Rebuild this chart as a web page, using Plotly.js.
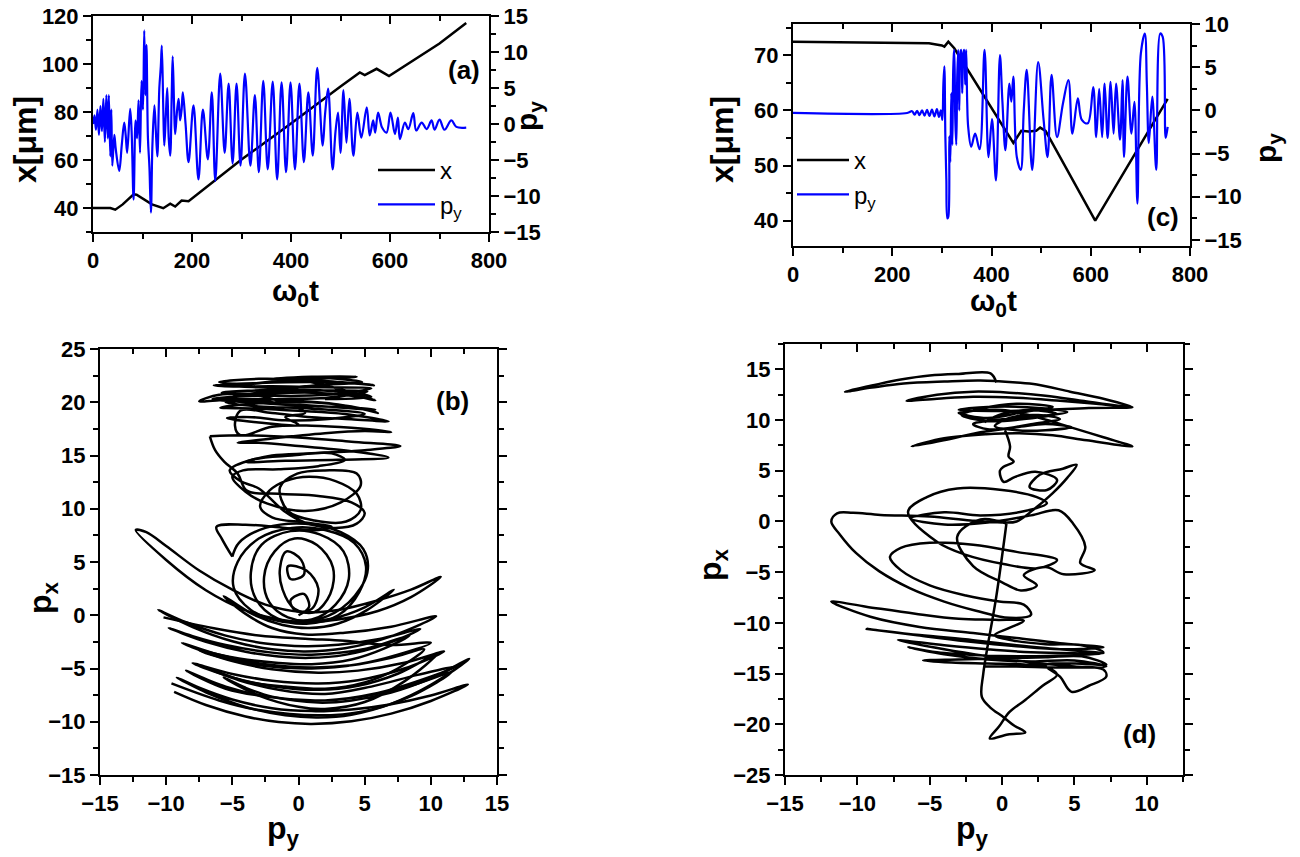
<!DOCTYPE html>
<html><head><meta charset="utf-8">
<script src="https://cdn.plot.ly/plotly-3.0.1.min.js"></script>
<style>html,body{margin:0;padding:0;background:#fff}#chart{width:1300px;height:857px}</style>
</head><body><div id="chart"></div>
<script>
// ---------------- DATA ----------------
// Panel (a): time series, [omega0 t, value]
const A_X = [[0,40],[35,40],[45,39.3],[60,41.5],[82,45.7],[88,45.5],[119,41.5],[142,39.9],[156,41.8],[166,40.6],[179,43.1],[193,42.8],[300,60.2],[400,75.2],[500,90.6],[539,96.5],[549,95.4],[573,98],[598,95],[650,102],[700,108.5],[754,117.1]];
const A_PY = [[0,0],[3,1.2],[6,-0.8],[9,2],[12,-1.5],[15,2.5],[18,-1],[21,3.5],[24,-2.5],[27,4],[30,-2],[32,4],[35,-4.5],[37,2],[39,-5.8],[43,-1.5],[46,-3.5],[53,-6.5],[58,-3],[63,0.2],[66,-1.5],[69,-4],[75,2.1],[78,-1],[82,-10.5],[86,0.5],[89,-2],[92,3.3],[95,-4],[98,6],[101,2],[103.5,13],[106,4],[108,11],[111,-2],[114,-6],[117,-12.3],[120,-3],[124,2.6],[127,-1],[130,-4.5],[134,5],[137,8],[139,10.9],[142,2],[144,-3],[147,1],[150,5],[153,-2],[156,-4.4],[159,4],[161,9.4],[164,2],[166,-1.4],[170,2],[173,3.5],[176,0.5],[179,2],[181.5,4.4],[187,0],[193,-5.3],[203,2.6],[213,-7.7],[222,2],[232,-4.9],[240,4.4],[247,-7.9],[257,7],[266,-4],[274,5.6],[282,-5.5],[290,5.6],[298,-5.8],[307,7],[318,-5.8],[327,4],[335,-6.7],[344,6],[353,-6.3],[363,5.9],[372,-7.7],[381,5.8],[390,-6.7],[399,5.8],[408,-6.3],[417,5.6],[426,-5.3],[435,4.4],[444,-4.4],[453,7.8],[464,-3],[469,1.5],[475,4.9],[484,-6.3],[490,-1],[495,1.6],[500,-4],[506,4.7],[512,-2.6],[518,3.5],[526,-4.4],[534,1.6],[542,-1.9],[553,2.3],[559,-1.6],[566,0.5],[570,-1.2],[576,1.6],[584,-0.5],[593,-1.2],[601,1.6],[610,-1.4],[616,0.9],[620,-2.1],[630,0.2],[637,-0.7],[647,1.5],[653,-0.9],[664,0.2],[674,-0.7],[684,0.5],[690,-0.8],[700,0.6],[710,-0.8],[724,0.5],[734,-0.4],[754,-0.5]];

// Panel (c): time series
const C_X = [[0,72.5],[150,72.4],[274,72.2],[300,71.8],[305,71.6],[313,72.5],[325,71.3],[444,54.1],[452,55.3],[460,56.3],[475,56.2],[490,56.3],[498,56.9],[509,56.3],[609,40.0],[755,62.1]];
const C_PY = [[0,-0.3],[230,-0.3],[240,-0.1],[245,-0.5],[250,-0.05],[255,-0.55],[260,0],[265,-0.6],[270,0.05],[275,-0.65],[280,0.1],[285,-0.7],[290,0.15],[294,-0.75],[298,0],[301,-1.1],[303,3],[305,5.1],[307,-3],[309,-8],[311,-12.5],[313,-12.3],[315,-3],[317,-6],[319,2],[321,-4],[323,5],[325,7.0],[327,-1],[329,-4],[331,4],[333,7],[335,0],[337,6.5],[339,7],[341,2],[343,6.5],[345,7],[347,3],[349,7],[351,1],[353,-1.9],[359,-4.2],[367,-2.7],[376,-4.5],[386,7.0],[394,-5.4],[401,-1],[409,-8.1],[417,6.4],[422,1],[428,-4.6],[436,3.1],[440,1],[444,3.9],[451,-5.4],[459,-6.9],[465,0],[471,4.7],[482,-6.9],[494,5.6],[505,-1.1],[513,-5.4],[521,4.1],[532,-3.1],[544,0.8],[555,3.5],[563,-2.7],[574,1.4],[582,-1.1],[594,-1.5],[605,2.7],[611,-3.1],[617,2.5],[623,-3.1],[628,3.1],[634,-3.2],[640,3.3],[646,-2.7],[651,3.1],[659,-3.4],[664,3.5],[667,-5.4],[674,3.9],[682,-2.7],[688,1],[694,-10.8],[701,6.6],[709,8.9],[713,3.1],[717,-3.8],[724,1.6],[732,-6.9],[740,8.9],[745,8.5],[751,-3.2],[755,-1.9]];

// Panel (b): phase space [p_y, p_x]
const B_CENTER = [[0,0],[0.8,0.8],[0.4,2.0],[-0.6,1.4],[-0.2,0.4],[1.0,0.6],[1.5,2.5],[0.6,4.2],[-0.8,4.6],[-0.6,3.4],[0.4,3.8],[0.2,5.2],[-0.9,6.0],[-1.4,4.4],[-1.2,2.4],[-0.3,0.6],[1.2,0.3],[2.4,2],[2.6,4.5],[1.4,6.6],[-0.3,7.2],[-1.8,6],[-2.6,3.6],[-2.2,1.2],[-0.8,-0.2],[1,-0.4],[2.8,1],[3.8,3.4],[3.4,6],[1.6,7.6],[-0.6,7.9],[-2.8,6.6],[-3.6,4],[-3.2,1.5],[-1.6,-0.3],[0.6,-0.8],[3,0],[4.6,2.2],[5.1,4.6],[4.2,6.8],[2,8],[-0.5,8.2],[-3,7.2],[-4.6,5],[-4.9,2.6],[-3.6,0.5],[-1.2,-0.6],[1.5,-0.4],[3.8,1.2],[5.2,4.0],[4.9,6.2],[3.2,7.8],[0.5,8.6],[-2.5,8.2],[-4.5,6.8],[-5,5.5]];
const B_BANANAS = [[-9.4,-7.2],[-7,-8.43],[-4,-9.51],[-1.5,-10.03],[1,-10.2],[4,-9.96],[7,-9.24],[10,-8.05],[12.8,-6.5],
[10,-7.54],[7,-8.35],[4,-8.84],[1,-9.0],[-2,-8.73],[-5,-7.91],[-7.5,-6.81],[-9.2,-5.85],
[-7,-7.23],[-4,-8.61],[-1,-9.4],[1.5,-9.6],[4,-9.34],[7,-8.32],[10,-6.54],[12.9,-4.1],
[10,-5.92],[7,-7.25],[4,-8.0],[1.5,-8.2],[-2,-7.64],[-4,-6.81],[-5.65,-5.85],
[-3,-7.54],[0,-8.6],[2,-8.8],[5,-8.15],[8,-6.21],[10.5,-3.6],
[7.5,-5.49],[4.5,-6.62],[1.5,-7.0],[-2,-6.66],[-5,-5.83],[-8,-4.5],
[-5,-5.51],[-2,-6.14],[1.5,-6.4],[4.5,-6.1],[8,-5.0],[11,-3.4],
[8,-4.46],[4.5,-5.2],[1.5,-5.4],[-2,-5.08],[-5,-4.3],[-7.5,-3.3],
[-4.5,-4.06],[-1.5,-4.49],[1,-4.6],[4,-4.16],[6.5,-3.11],[8.4,-1.9],
[5,-3.17],[1,-3.7],[-2,-3.51],[-5.5,-2.8],[-8,-1.97],[-9.8,-1.2],
[-7,-2.49],[-4,-3.43],[-1.5,-3.87],[0.8,-4.0],[3.5,-3.72],[6.5,-2.76],[9.2,-1.3],
[6,-2.26],[3,-2.77],[0.5,-2.9],[-2.5,-2.65],[-5.5,-1.91],[-8.5,-0.66],[-10.6,0.5],
[-8,-1.11],[-5,-2.44],[-2,-3.2],[0.5,-3.4],[3.5,-3.1],[7,-1.98],[10.4,-0.1],
[7,-1.07],[3.5,-1.64],[0.5,-1.8],[-2,-1.2],[-4,0.13],[-5.65,1.8],
[-3.5,0.13],[-1.2,-0.91],[0.8,-1.2],[3,-0.78],[5.2,0.5],[7.2,2.4],
[5,0.75],[2.5,-0.33],[0.5,-0.6],[-1.5,-0.39],[-4,0.46],[-7,2.35],[-10,5.19],[-12.3,8],
[-11.5,7.8],[-10,6.5],[-7.5,4.2],[-5,2.4],[-2.5,1.0],[0.3,0.3],[3,0.5],[6,1.4],[8.5,2.4],[10.75,3.6],
[8.5,1.7],[6,0.4],[3,-0.4],[0.5,-0.7]];
const B_BANANAS2 = [[-9.6,-6.4],[-6,-8.0],[-3,-8.9],[1.5,-9.4],[5,-9.0],[8.5,-7.6],[11.5,-5.4],
[8.5,-6.6],[5,-7.6],[1.5,-8.0],[-2,-7.7],[-5.5,-6.7],[-8.5,-5.2],
[-5.5,-6.9],[-2,-7.7],[2,-8.0],[6,-7.3],[9,-6.2],[12,-4.8],
[9,-5.6],[5.5,-6.7],[2,-7.4],[-1.5,-7.0],[-4.5,-6.1],[-6.8,-5.0],
[-4,-6.2],[-1,-6.7],[2,-6.9],[5,-6.3],[7.5,-5.0],[9.5,-3.2],
[7,-4.0],[4,-4.7],[1,-4.9],[-2.5,-4.6],[-6,-3.7],[-8.8,-2.6],
[-6,-3.9],[-3,-4.7],[1,-5.0],[4.5,-4.6],[7.5,-3.7],[10,-2.6],
[7,-2.8],[3.5,-2.4],[0.5,-2.2],[-3,-1.9],[-6.5,-1.2],[-10.2,-0.2]];
const B_MIDDLE = [[-5,5.5],[-5.8,7.2],[-6.2,8.3],[-4,8.5],[-1,8.2],[1.5,8.0],[2.5,8.3],[0.5,8.7],[-2,9.2],[-2.9,10.2],[-2.2,11.7],[-1,12.6],[0.8,13.0],[2.8,12.6],[4.4,11.4],[4.7,9.9],[3.6,8.8],[1.2,8.9],[-0.8,9.8],[-1.4,12],[-0.1,13.3],[2,13.6],[4.4,13.3],[4.7,12.2],[3.2,10.6],[0.5,9.8],[-2.4,10.5],[-4,11.6],[-5,13.0],[-4.2,13.6],[-1.5,13.7],[1.5,14.0],[3.5,14.6],[2.5,15.2],[-0.5,15.0],[-3.5,14.6],[-5.2,13.6],[-4.4,12.6],[-3,11.9],[-1.1,9.8],[0.5,8.7],[2.8,8.2],[4.4,8.6],[5,9.6],[4,10.6],[1.5,11.2],[-1.5,11.4],[-3.9,11.7],[-4.6,13.3],[-5.6,14.4],[-6.3,15.5],[-6.7,16.8]];
const B_TOP = [[-6.7,16.8],[-4,16.9],[0,16.7],[4,16.3],[7.7,15.9],[5,15.5],[1,15.2],[-2,15.0],[-4,14.4],[-1,14.5],[3,14.6],[6.8,14.8],[4,15.4],[0,15.9],[-3,16.2],[-4.6,16.2],[-2,16.6],[2,17.1],[5,17.3],[7,17.2],[4,17.6],[1,17.8],[-2,17.7],[-4.4,16.9],[-4.8,17.8],[-4.4,19.2],[-2,19.0],[1,18.6],[4,18.4],[6.8,18.2],[3.5,18.9],[0,19.2],[-3,19.4],[-5.9,19.5],[-3,19.9],[1,20.0],[4,19.6],[6,19.0],[3,19.8],[-1,20.2],[-4.5,20.3],[-7.5,20.1],[-6,20.7],[-3,20.8],[1,20.9],[4,20.6],[5.8,20.2],[3,21.0],[0,21.2],[-3,21.4],[-6.4,21.6],[-3,21.8],[1,21.9],[4,21.8],[5.7,21.6],[2,22.0],[-2,22.2],[1,22.4],[4.4,22.4],[1.5,22.2],[-2,21.9],[-5,21.5],[-2,21.5],[2,21.4],[5.5,21.3],[3,20.8],[0,20.6],[-3.5,20.6],[-6.5,20.3],[-4,20.0],[0,19.7],[4,19.5],[5.8,19.3],[2,19.6],[-2,20.0],[-5,20.5],[-2,21.0],[2,21.1],[5.2,21.0],[2,20.4],[-1.5,20.3],[-5.5,20.0],[-3,19.6],[1,19.4],[5,18.9],[2,18.4],[-1,18.3],[-3.5,18.6],[-5.4,18.5],[-3,18.1],[0,17.9],[-1,18.6],[0.5,19.0],[-2.5,20.5],[-5.8,20.9],[-2,21.2],[1.5,21.6],[4.8,21.9],[1.5,22.3],[-1,22.1],[-4,21.7],[-6,21.9],[-3,22.2],[0.5,22.0],[3.5,21.1],[5.5,20.5],[2,20.3]];

// Panel (d): phase space [p_y, p_x]
const D_TOP = [[-0.4,13.7],[-0.8,14.6],[-3,14.55],[-5,14.4],[-7,14.0],[-9,13.4],[-10.85,12.8],[-9,13.2],[-6.8,13.6],[-4,13.8],[-1.5,13.9],[1,13.7],[2.4,13.5],[4.7,12.8],[7,12.1],[9,11.3],[6.5,11.6],[4,11.9],[1,12.2],[-2,12.3],[-4.5,12.1],[-6.6,11.9],[-4.5,12.5],[-2,12.8],[0.5,12.7],[3,12.4],[5.5,11.9],[8,11.4],[9,11.25],[6,11.2],[3,11.0],[0,10.9],[-3,11.0],[-1,11.3],[2.5,11.2],[4.5,10.8],[2,10.3],[-0.5,10.0],[-2,9.6],[-1,9.1],[1,9.3],[3,9.6],[4.8,9.3],[3,9.0],[1,9.0],[-0.5,9.4],[0.5,10.2],[2.5,10.5],[4,10.1],[2,9.6],[0,9.1],[-1.5,8.8],[-4.05,8.0],[-6.25,7.4],[-4,8.2],[-1.1,8.6],[1.2,8.7],[3.5,8.5],[5.85,8.0],[9,7.4],[7,8.3],[4.7,9.3],[3.1,10.0],[1.5,10.6],[0,11.0],[-3,10.7],[-1,10.2],[1.5,10.8],[3.5,11.3],[1,11.6],[-1.5,11.1],[-2.8,10.5],[-1,9.9],[1.5,10.1],[3.8,10.6],[2,11.0],[0,10.6],[-1.2,9.8]];
const D_MIDDLE = [[0.2,9.0],[0.55,7.4],[0.45,6.4],[0.8,5.9],[0.1,5.4],[-0.15,5.0],[0.1,3.9],[0.9,4.4],[2.3,4.9],[3.8,4.1],[3.1,3.1],[1.9,3.4],[2.6,4.6],[4.2,5.2],[5.15,5.6],[4.5,4.3],[3.5,2.8],[2.2,1.2],[1,0],[0,-0.1],[-2.2,0.1],[-5,0.5],[-8.4,0.65],[-10.3,0.85],[-11.4,0.8],[-11.8,0],[-11.2,-1.3],[-10.1,-3.1],[-8.5,-4.9],[-6.35,-6.6],[-4,-7.9],[-1.8,-8.8],[0.5,-9.5],[2,-9.2],[1.5,-8.2],[-0.2,-7.9],[-2.5,-7.3],[-5,-6.3],[-7,-4.8],[-7.75,-3.5],[-7,-2.6],[-5,-2.1],[-2,-2.3],[1,-3],[3.8,-3.8],[2.5,-4.6],[0.1,-4.2],[-2.5,-3.3],[-4.5,-2.0],[-6.5,0.95],[-5.2,2.4],[-3.1,3.25],[0,3.1],[2.4,2.4],[3.1,1.8],[1.5,1.0],[-1.5,0.6],[-4,0.9],[-6.3,0.3],[-4,-0.3],[-1,-0.1],[2,0.6],[3.9,1.1],[4.9,-0.2],[5.75,-2.5],[5.4,-4.1],[6.4,-4.8],[4.25,-5.2],[3,-4.5],[1.5,-5.3],[2.4,-6.3],[1.3,-6.8],[0,-6.0],[-2,-4.4],[-3.1,-1.5],[-1.5,0.2],[0.3,-0.2]];
const D_BOTTOM = [[0.3,-0.2],[-0.4,-7.4],[-1.3,-15],[-1.4,-17.3],[-0.85,-18.3],[0.1,-19.3],[0.8,-20.1],[1.6,-20.8],[0.4,-21.0],[-0.85,-21.4],[-0.2,-20.2],[0.5,-18.8],[1.6,-17.6],[2.8,-16.2],[3.8,-15.1],[3.1,-14.4],[1.5,-14.1],[-1,-14.0],[-3.5,-13.9],[-5.45,-13.7],[-3,-13.6],[0,-13.5],[3,-13.4],[5.5,-13.3],[7.2,-14.1],[5,-14.0],[3,-14.2],[4,-15.3],[4.8,-16.8],[6,-16.2],[7.2,-15.3],[7.0,-14.6],[5,-14.3],[2,-13.9],[-1,-13.3],[-4,-12.6],[-7.2,-11.7],[-4,-12.2],[-1,-12.6],[2,-12.9],[5,-13.0],[7,-13.0],[4,-12.6],[1,-12.2],[-2,-11.7],[-5.7,-11.2],[-9.35,-10.6],[-6,-11.2],[-2.5,-11.8],[1,-12.3],[4,-12.6],[7,-12.4],[4,-12.0],[1,-11.5],[-2,-11.0],[-5.7,-10.4],[-9.1,-9.4],[-11.8,-7.9],[-9.4,-8.4],[-6,-9.1],[-3,-9.6],[-0.5,-9.7],[1.5,-9.8],[0.5,-10.5],[-0.5,-11.2],[1,-11.8],[3,-12.1],[5.5,-12.2],[7.0,-12.9],[4.5,-13.2],[1.5,-13.3],[-1.5,-13.2],[-4.5,-12.9],[-6.5,-12.4],[-4,-13.1],[-1,-13.6],[2,-13.8],[5,-13.7],[7.2,-14.3],[4,-14.4],[1,-14.3],[-1.3,-14.3]];

// ---------------- LAYOUT HELPERS ----------------
const W = 1300, H = 857;
const fx = p => p / W;
const fy = p => 1 - p / H;
const FONT = 'Liberation Sans, Arial, Helvetica, sans-serif';
const tickFont = {family: FONT, size: 22, color: '#000', weight: 'bold'};
const col = (arr, i) => arr.map(r => r[i]);

function axis(extra, minorDtick, minorDir) {
  return Object.assign({
    showline: true, linewidth: 2, linecolor: '#000', mirror: false,
    ticks: 'outside', ticklen: 8, tickwidth: 2, tickcolor: '#000',
    showgrid: false, zeroline: false, tickfont: tickFont, fixedrange: true,
    minor: {ticks: minorDir || 'outside', ticklen: 5, tickwidth: 2, tickcolor: '#000', dtick: minorDtick, showgrid: false}
  }, extra);
}

const blue = {color: '#0000ff', width: 2.2, shape: 'spline', smoothing: 1};
const phase = {color: '#000', width: 2.5, shape: 'spline', smoothing: 1};

const traces = [
  {x: col(A_X,0), y: col(A_X,1), xaxis:'x', yaxis:'y', mode:'lines', line:{color:'#000', width:2.5}, name:'x', legend:'legend'},
  {x: col(A_PY,0), y: col(A_PY,1), xaxis:'x', yaxis:'y2', mode:'lines', line:blue, name:'p<sub>y</sub>', legend:'legend'},
  {x: [], y: [], xaxis:'x2', yaxis:'y', showlegend:false},
  {x: col(C_X,0), y: col(C_X,1), xaxis:'x3', yaxis:'y3', mode:'lines', line:{color:'#000', width:2.5}, name:'x', legend:'legend2'},
  {x: col(C_PY,0), y: col(C_PY,1), xaxis:'x3', yaxis:'y4', mode:'lines', line:blue, name:'p<sub>y</sub>', legend:'legend2'},
  {x: [], y: [], xaxis:'x4', yaxis:'y3', showlegend:false},
];
[B_CENTER, B_BANANAS, B_BANANAS2, B_MIDDLE, B_TOP].forEach(s => traces.push({x: col(s,0), y: col(s,1), xaxis:'x5', yaxis:'y5', mode:'lines', line: phase, showlegend:false}));
traces.push({x: [], y: [], xaxis:'x6', yaxis:'y5', showlegend:false});
[D_TOP, D_MIDDLE, D_BOTTOM].forEach(s => traces.push({x: col(s,0), y: col(s,1), xaxis:'x7', yaxis:'y7', mode:'lines', line: phase, showlegend:false}));
traces.push({x: [], y: [], xaxis:'x8', yaxis:'y7', showlegend:false});

const dA = {x:[fx(93), fx(489)], y:[fy(232), fy(16)]};
const dC = {x:[fx(793), fx(1190)], y:[fy(246), fy(24)]};
const dB = {x:[fx(100), fx(497)], y:[fy(775), fy(349)]};
const dD = {x:[fx(785), fx(1183)], y:[fy(775), fy(344)]};

const ann = (text, x, y, size, rot, weight) => ({text, x: fx(x), y: fy(y), xref:'paper', yref:'paper', showarrow:false, xanchor:'center', yanchor:'middle', textangle: rot || 0, font:{family: FONT, size: size, color:'#000', weight: weight || 'bold'}});

const layout = {
  width: W, height: H, margin: {l:0, r:0, t:0, b:0}, paper_bgcolor:'#fff', plot_bgcolor:'rgba(0,0,0,0)',
  showlegend: true,
  xaxis: axis({domain: dA.x, anchor:'y', range:[0,800], dtick:200, tick0:0}, 100),
  xaxis2: axis({overlaying:'x', side:'top', anchor:'y', range:[0,800], dtick:200, tick0:0, ticks:'inside', showticklabels:false}, 100, 'inside'),
  yaxis: axis({domain: dA.y, anchor:'x', range:[30,120], dtick:20, tick0:0}, 10),
  yaxis2: axis({overlaying:'y', side:'right', anchor:'x', range:[-15,15], dtick:5, tick0:0}, 2.5),
  xaxis3: axis({domain: dC.x, anchor:'y3', range:[0,800], dtick:200, tick0:0}, 100),
  xaxis4: axis({overlaying:'x3', side:'top', anchor:'y3', range:[0,800], dtick:200, tick0:0, ticks:'inside', showticklabels:false}, 100, 'inside'),
  yaxis3: axis({domain: dC.y, anchor:'x3', range:[35.4,75.7], dtick:10, tick0:0}, 5),
  yaxis4: axis({overlaying:'y3', side:'right', anchor:'x3', range:[-15.7,10], dtick:5, tick0:0}, 2.5),
  xaxis5: axis({domain: dB.x, anchor:'y5', range:[-15,15], dtick:5, tick0:0}, 2.5),
  xaxis6: axis({overlaying:'x5', side:'top', anchor:'y5', range:[-15,15], dtick:5, tick0:0, ticks:'inside', showticklabels:false}, 2.5, 'inside'),
  yaxis5: axis({domain: dB.y, anchor:'x5', range:[-15,25], dtick:5, tick0:0, mirror:'ticks'}, 2.5),
  xaxis7: axis({domain: dD.x, anchor:'y7', range:[-15,12.5], dtick:5, tick0:0}, 2.5),
  xaxis8: axis({overlaying:'x7', side:'top', anchor:'y7', range:[-15,12.5], dtick:5, tick0:0, ticks:'inside', showticklabels:false}, 2.5, 'inside'),
  yaxis7: axis({domain: dD.y, anchor:'x7', range:[-25,17.5], dtick:5, tick0:0, mirror:'ticks'}, 2.5),
  legend: {x: fx(373), y: fy(148), xanchor:'left', yanchor:'top', bgcolor:'rgba(0,0,0,0)', font:{family: FONT, size:24, color:'#000'}, itemwidth: 57, tracegroupgap: 0},
  legend2: {x: fx(792), y: fy(138), xanchor:'left', yanchor:'top', bgcolor:'rgba(0,0,0,0)', font:{family: FONT, size:24, color:'#000'}, itemwidth: 52, tracegroupgap: 0},
  annotations: [
    ann('x[μm]', 25, 140, 32, -90),
    ann('ω<sub>0</sub>t', 295, 292, 30),
    ann('p<sub>y</sub>', 528, 116, 30, -90),
    ann('(a)', 464, 70, 26),
    ann('x[μm]', 722, 140, 32, -90),
    ann('ω<sub>0</sub>t', 993, 303, 30),
    ann('p<sub>y</sub>', 1268, 148, 30, -90),
    ann('(c)', 1163, 217, 26),
    ann('p<sub>x</sub>', 42, 598, 32, -90),
    ann('p<sub>y</sub>', 283, 830, 32),
    ann('(b)', 452, 401, 26),
    ann('p<sub>x</sub>', 712, 565, 32, -90),
    ann('p<sub>y</sub>', 972, 830, 32),
    ann('(d)', 1139, 734, 26)
  ]
};

Plotly.newPlot('chart', traces, layout, {staticPlot: true, displayModeBar: false});
</script>
</body></html>
